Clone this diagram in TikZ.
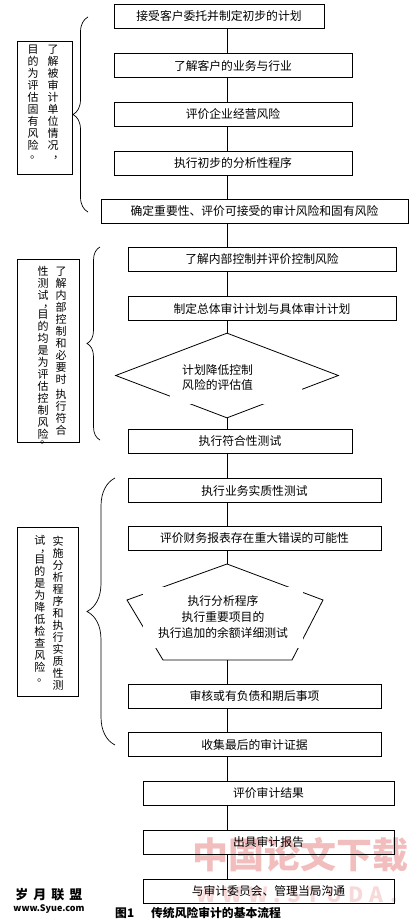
\documentclass[tikz,border=0pt]{standalone}
\usepackage{fontspec}
\setmainfont{Noto Sans CJK SC}
\usepackage{tikz}
\usetikzlibrary{positioning,shapes.geometric,decorations.pathreplacing}
\definecolor{MarkPink}{HTML}{F2BDBD}
\definecolor{MarkPale}{HTML}{F7D9D9}

\begin{document}
\begin{tikzpicture}[
  x=1pt, y=-1pt,
  font=\fontsize{11.8}{14}\selectfont,
  % process box
  proc/.style={draw, line width=0.8pt, minimum height=24pt, inner sep=0pt},
  % decision diamond
  dec/.style={draw, line width=0.8pt, shape=diamond,
              minimum width=223pt, minimum height=85pt, inner sep=0pt},
  % side note box and its vertical text columns
  note/.style={draw, line width=0.8pt, inner sep=0pt},
  vcol/.style={anchor=north, align=center, inner sep=0pt,
               font=\fontsize{11}{12}\selectfont},
  % curly brace
  brc/.style={decorate, decoration={brace, amplitude=#1}, line width=0.7pt},
  % plain connector
  link/.style={line width=0.8pt},
]
\useasboundingbox (0,0) rectangle (412,923);

%% ── Watermarks (behind everything) ───────────────────────────────────────
\node[text=MarkPink, inner sep=0pt, font=\fontsize{36}{36}\bfseries\selectfont]
      (WM1) at (300,855) {中国论文下载};
\node[text=MarkPale, inner sep=0pt,
      font=\fontsize{21}{21}\bfseries\addfontfeature{LetterSpace=30}\selectfont]
      (WM2) at (297,895) {WWW.STUDA.};

%% ── Main column ──────────────────────────────────────────────────────────
\coordinate (ax) at (227,0);
\node[proc, minimum width=210pt] (B1)  at (219,16.5) {接受客户委托并制定初步的计划};
\node[proc, minimum width=238pt] (B2)  at (233,65.5) {了解客户的业务与行业};
\node[proc, minimum width=238pt] (B3)  [below=24pt of B2] {评价企业经营风险};
\node[proc, minimum width=238pt] (B4)  [below=24pt of B3] {执行初步的分析性程序};
\node[proc, minimum width=307pt] (B5)  at (254.5,211) {确定重要性、评价可接受的审计风险和固有风险};
\node[proc, minimum width=268pt] (B6)  at (262,259) {了解内部控制并评价控制风险};
\node[proc, minimum width=268pt] (B7)  [below=25pt of B6] {制定总体审计计划与具体审计计划};
\node[dec]                       (D1)  at (227,375.5) {};
\node[proc, minimum width=224pt] (B8)  at (240,441) {执行符合性测试};
\node[proc, minimum width=253pt] (B9)  at (254.5,490.5) {执行业务实质性测试};
\node[proc, minimum width=253pt] (B10) [below=23pt of B9] {评价财务报表存在重大错误的可能性};
\node[proc, minimum width=253pt] (B11) at (254.5,696) {审核或有负债和期后事项};
\node[proc, minimum width=253pt] (B12) [below=24pt of B11] {收集最后的审计证据};
\node[proc, minimum width=251pt] (B13) at (268.5,793.5) {评价审计结果};
\node[proc, minimum width=251pt] (B14) [below=24pt of B13] {出具审计报告};
\node[proc, minimum width=251pt] (B15) [below=24pt of B14] {与审计委员会、管理当局沟通};

%% ── Pentagon ─────────────────────────────────────────────────────────────
\coordinate (P1) at (227,564);
\coordinate (P2) at (323,600);
\coordinate (P3) at (292,660);
\coordinate (P4) at (163,660);
\coordinate (P5) at (127,600);
\coordinate (P0) at (227,660);
\draw[link] (P1) -- (P2) -- (P3) -- (P4) -- (P5) -- cycle;

%% ── Texts inside diamond and pentagon (white ground cuts the edges) ─────
\fill[white] (170,362) rectangle (302,404);
\node[align=left, anchor=north west, inner sep=0pt, font=\fontsize{11.8}{15}\selectfont]
      (D1t) at (182,364) {计划降低控制\\风险的评估值};
\node[fill=white, minimum width=160pt, minimum height=61pt, inner sep=0pt,
      align=center, font=\fontsize{11.8}{16}\selectfont]
      (PT) at (223,617) {执行分析程序\\执行重要项目的\\执行追加的余额详细测试};

%% ── Main flow lines ──────────────────────────────────────────────────────
\draw[link] (B1.south -| ax)  -- (B2.north -| ax);
\draw[link] (B2.south -| ax)  -- (B3.north -| ax);
\draw[link] (B3.south -| ax)  -- (B4.north -| ax);
\draw[link] (B4.south -| ax)  -- (B5.north -| ax);
\draw[link] (B5.south -| ax)  -- (B6.north -| ax);
\draw[link] (B6.south -| ax)  -- (B7.north -| ax);
\draw[link] (B7.south -| ax)  -- (D1.north);
\draw[link] (D1.south)        -- (B8.north -| ax);
\draw[link] (B8.south -| ax)  -- (B9.north -| ax);
\draw[link] (B9.south -| ax)  -- (B10.north -| ax);
\draw[link] (B10.south -| ax) -- (P1);
\draw[link] (P0)              -- (B11.north -| ax);
\draw[link] (B11.south -| ax) -- (B12.north -| ax);
\draw[link] (B12.south -| ax) -- (B13.north -| ax);
\draw[link] (B13.south -| ax) -- (B14.north -| ax);
\draw[link] (B14.south -| ax) -- (B15.north -| ax);

%% ── Side notes ───────────────────────────────────────────────────────────
\node[note, minimum width=55pt, minimum height=133pt] (L1) at (44.5,107.5) {};
\node[vcol] (L1a) at (53,44.5) {了\\解\\被\\审\\计\\单\\位\\情\\况\\[-3pt]\hspace*{11pt}，};
\node[vcol] (L1b) at (33,44.5) {目\\的\\为\\评\\估\\固\\有\\风\\险\\[-3pt]\hspace*{5pt}。};

\node[note, minimum width=62pt, minimum height=183pt] (L2) at (48,350.5) {};
\node[vcol] (L2a) at (61,266.5) {了\\解\\内\\部\\控\\制\\和\\必\\要\\时\\[3pt]执\\行\\符\\合};
\node[vcol] (L2b) at (43,266.5) {性\\测\\试\\[-4.5pt]\hspace*{11pt}，\\[-0.5pt]目\\的\\均\\是\\为\\评\\估\\控\\制\\风\\险\\[-7pt]\hspace*{5pt}。};

\node[note, minimum width=61pt, minimum height=169pt] (L3) at (47.5,612) {};
\node[vcol] (L3a) at (58,535.5) {实\\施\\分\\析\\程\\序\\和\\执\\行\\实\\质\\性\\测};
\node[vcol] (L3b) at (40,535.5) {试\\[-4.5pt]\hspace*{11pt}，\\[-0.5pt]目\\的\\是\\为\\降\\低\\检\\查\\风\\险\\[-2.5pt]\hspace*{5pt}。};

%% ── Braces ───────────────────────────────────────────────────────────────
\draw[brc=15pt] (88,212)  -- (88,17);
\draw[brc=13pt] (100,440) -- (100,247);
\draw[brc=28pt] (115,745) -- (115,478);

%% ── Caption and site mark ────────────────────────────────────────────────
\node[anchor=west, inner sep=0pt, font=\fontsize{11.8}{12}\bfseries\selectfont]
      (FIG) at (115,913) {图1\hspace{17pt}传统风险审计的基本流程};
\node[inner sep=0pt, font=\fontsize{13}{13}\bfseries\selectfont]
      (SY1) at (49,895) {岁\hspace{5pt}月\hspace{5pt}联\hspace{5pt}盟};
\node[inner sep=0pt, font=\fontsize{9}{9}\bfseries\selectfont]
      (SY2) at (49,909) {www.Syue.com};

\end{tikzpicture}
\end{document}
